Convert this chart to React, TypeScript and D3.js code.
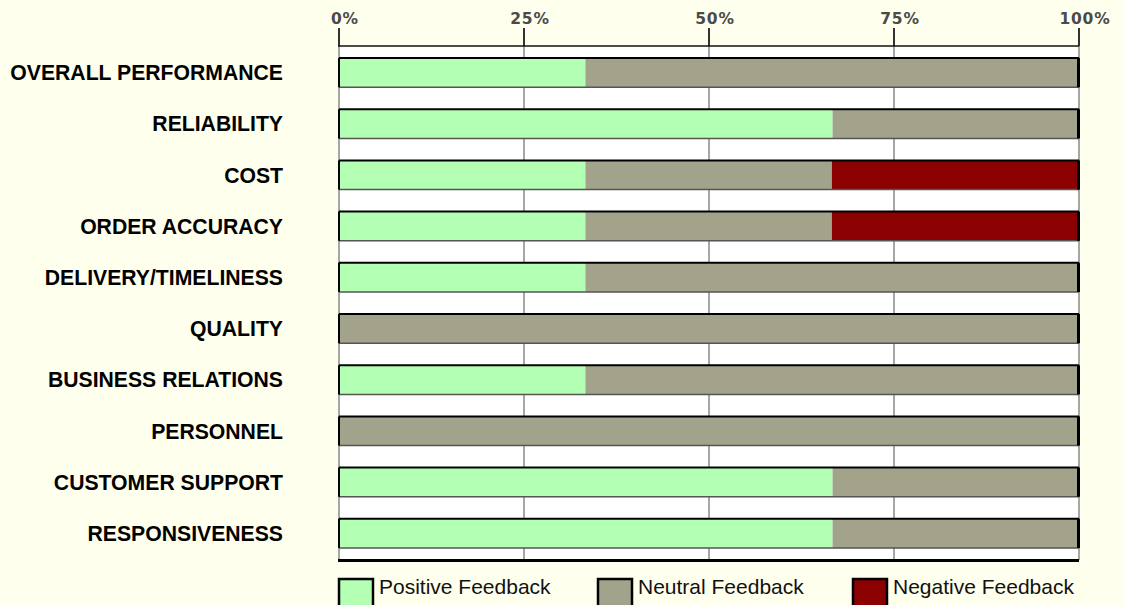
import React, { useEffect } from "react";
import * as d3 from "d3";

const categories = [
  "OVERALL PERFORMANCE",
  "RELIABILITY",
  "COST",
  "ORDER ACCURACY",
  "DELIVERY/TIMELINESS",
  "QUALITY",
  "BUSINESS RELATIONS",
  "PERSONNEL",
  "CUSTOMER SUPPORT",
  "RESPONSIVENESS",
];
const positive = [33.3, 66.7, 33.3, 33.3, 33.3, 0, 33.3, 0, 66.7, 66.7];
const neutral = [66.7, 33.3, 33.3, 33.3, 66.7, 100, 66.7, 100, 33.3, 33.3];
const negative = [0, 0, 33.4, 33.4, 0, 0, 0, 0, 0, 0];
const seriesNames = ["Positive Feedback", "Neutral Feedback", "Negative Feedback"];
const seriesColors = ["#b3ffb3", "#a3a38c", "#8b0000"];
const tickValues = [0, 25, 50, 75, 100];

const W = 1124;
const H = 605;
const X0 = 339;
const X1 = 1079;
const Y0 = 46;
const Y1 = 560;

export default function App() {
  useEffect(() => {
    document.body.style.margin = "0";
    document.body.style.background = "#ffffee";
  }, []);

  const x = d3.scaleLinear().domain([0, 100]).range([X0, X1]);
  const y = d3
    .scaleBand<string>()
    .domain(categories)
    .range([Y0, Y1])
    .paddingInner(0.43)
    .paddingOuter(0.235);

  const rows = categories.map((c, i) => ({
    cat: c,
    pos: positive[i],
    neu: neutral[i],
    neg: negative[i],
  }));
  const keys = ["pos", "neu", "neg"];
  const stacked = d3.stack<any>().keys(keys)(rows);
  const bw = y.bandwidth();

  const legendX = [339, 598, 853];

  return (
    <svg
      width={W}
      height={H}
      style={{ display: "block", background: "#ffffee" }}
      fontFamily="'Liberation Sans', Arial, sans-serif"
    >
      <rect x={0} y={0} width={W} height={H} fill="#ffffee" />
      {/* plot background */}
      <rect x={X0} y={Y0} width={X1 - X0} height={Y1 - Y0} fill="#ffffff" />
      {/* grid lines */}
      {tickValues.map((t) => (
        <line
          key={"g" + t}
          x1={x(t)}
          x2={x(t)}
          y1={Y0}
          y2={Y1}
          stroke="#8a8a8a"
          strokeWidth={1.5}
        />
      ))}
      {/* tick marks */}
      {tickValues.map((t) => (
        <line
          key={"t" + t}
          x1={x(t)}
          x2={x(t)}
          y1={28}
          y2={Y0}
          stroke="#333"
          strokeWidth={2}
        />
      ))}
      {/* tick labels */}
      {tickValues.map((t) => (
        <text
          key={"l" + t}
          x={x(t) + 6}
          y={24}
          textAnchor="middle"
          fontFamily="'DejaVu Sans', Verdana, sans-serif"
          fontSize={15.5}
          fontWeight="bold"
          letterSpacing={0.8}
          fill="#4a4a4a"
        >
          {t + "%"}
        </text>
      ))}
      {/* top border */}
      <line x1={X0 - 1} x2={X1} y1={Y0} y2={Y0} stroke="#111" strokeWidth={1.5} />
      {/* bars */}
      {stacked.map((s, si) =>
        s.map((d: any, i: number) => {
          const w = x(d[1]) - x(d[0]);
          if (w <= 0) return null;
          return (
            <rect
              key={si + "-" + i}
              x={x(d[0])}
              y={y(d.data.cat)}
              width={w}
              height={bw}
              fill={seriesColors[si]}
            />
          );
        })
      )}
      {/* bar outlines */}
      {rows.map((r) => {
        const yy = y(r.cat) as number;
        return (
          <g key={"o" + r.cat}>
            <line x1={X0} x2={X1} y1={yy + bw} y2={yy + bw} stroke="#555" strokeWidth={1.5} />
            <line x1={X0} x2={X1} y1={yy} y2={yy} stroke="#000" strokeWidth={2} />
            <line x1={X0} x2={X0} y1={yy} y2={yy + bw} stroke="#000" strokeWidth={2} />
            <line x1={X1 - 0.5} x2={X1 - 0.5} y1={yy} y2={yy + bw} stroke="#000" strokeWidth={3} />
          </g>
        );
      })}
      {/* bottom border */}
      <line x1={X0 - 1} x2={X1} y1={Y1 + 0.5} y2={Y1 + 0.5} stroke="#000" strokeWidth={3} />
      {/* category labels */}
      {categories.map((c) => (
        <text
          key={"c" + c}
          x={283}
          y={(y(c) as number) + bw / 2}
          dy="0.36em"
          textAnchor="end"
          fontWeight="bold"
          fontSize={21.2}
          fill="#000"
        >
          {c}
        </text>
      ))}
      {/* legend */}
      {seriesNames.map((n, i) => (
        <g key={"lg" + n}>
          <rect
            x={legendX[i]}
            y={579}
            width={34}
            height={40}
            fill={seriesColors[i]}
            stroke="#000"
            strokeWidth={2.5}
          />
          <text x={legendX[i] + 40} y={594} fontSize={21} fill="#111">
            {n}
          </text>
        </g>
      ))}
    </svg>
  );
}
